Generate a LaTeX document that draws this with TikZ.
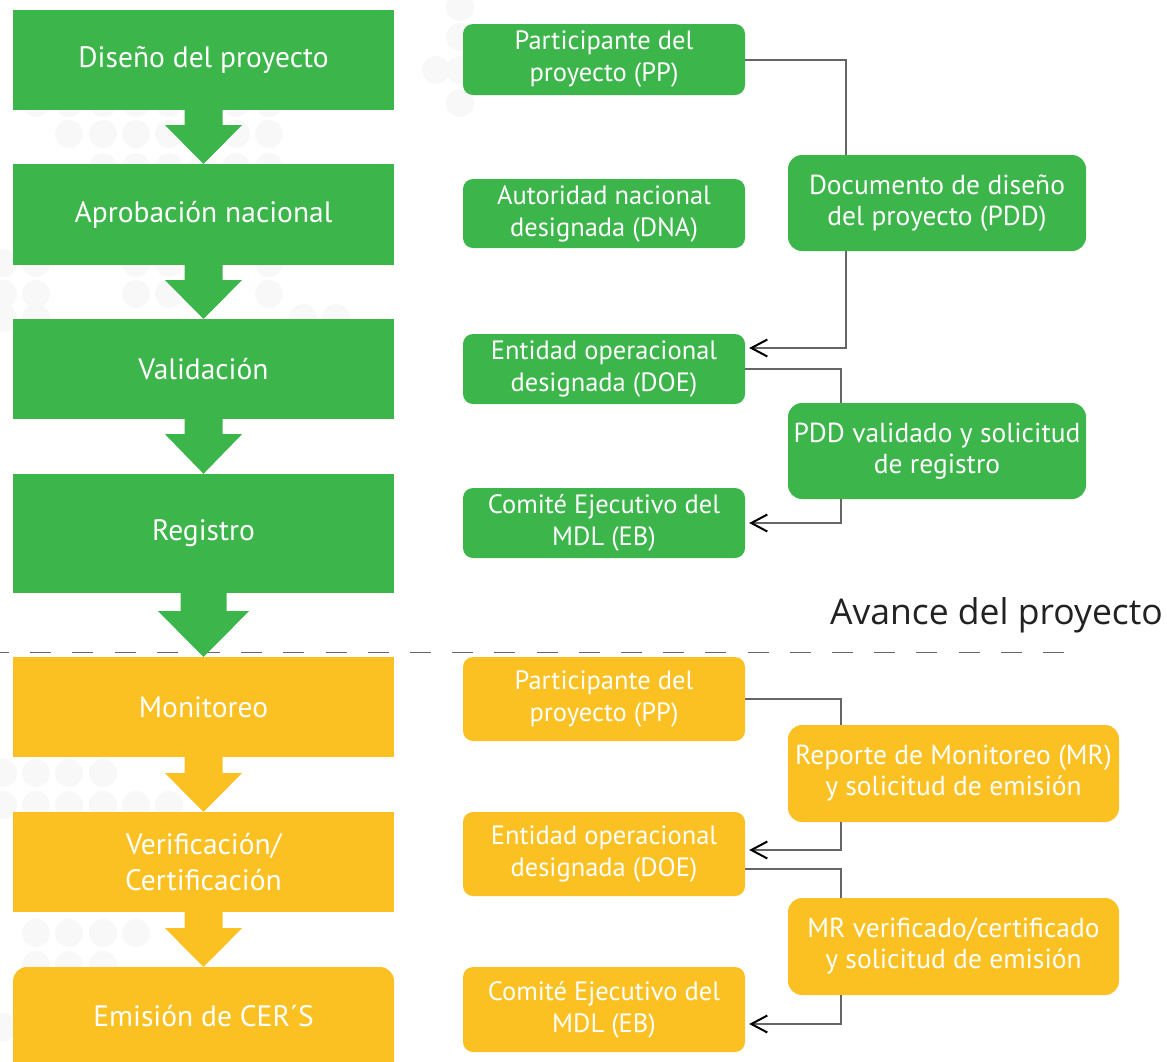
\documentclass[tikz,border=0pt]{standalone}
\usepackage{fontspec}
\setmainfont{PT Sans}
\newfontfamily\avfont{Open Sans}
\usetikzlibrary{arrows.meta,calc}
\definecolor{gr}{HTML}{3CB54A}
\definecolor{yl}{HTML}{FBC123}
\definecolor{ln}{HTML}{666666}
\definecolor{dotc}{HTML}{F8F8F8}
\definecolor{avc}{HTML}{222222}
\begin{document}
\begin{tikzpicture}[x=1pt,y=-1pt,
 lbox/.style={rectangle,minimum width=381pt,minimum height=100pt,inner sep=0pt,text=white,align=center,font=\fontsize{29.5}{36}\selectfont},
 rbox/.style={rectangle,rounded corners=10pt,minimum width=282pt,inner sep=0pt,text=white,align=center,font=\fontsize{26.5}{32}\selectfont},
 cbox/.style={rbox,rounded corners=14pt,minimum height=96pt,font=\fontsize{27.5}{31}\selectfont},
 conn/.style={draw=ln,line width=2pt},
 carr/.style={conn,-{Straight Barb[length=16pt,width=17pt,line width=2pt,black]},shorten >=4pt},
 bgdot/.style={fill=dotc},
]
\useasboundingbox (0,0) rectangle (1167,1061);
% faint background dots
\foreach \x in {36,69,103,136,169,203,236,269} \fill[bgdot] (\x,103) circle (14);
\foreach \x in {69,103,136,169,203,236,269} \fill[bgdot] (\x,134) circle (14);
\foreach \x in {103,136,169,203,236,269} \fill[bgdot] (\x,167) circle (14);
\foreach \x in {3,36,136,169,269} {\fill[bgdot] (\x,263) circle (14); \fill[bgdot] (\x,294) circle (14);}
\foreach \x in {3,36,303,336} \fill[bgdot] (\x,318) circle (14);
\foreach \y in {7,37,70,103} \fill[bgdot] (460,\y) circle (14);
\fill[bgdot] (436,70) circle (14);
\foreach \x in {3,36,69,103} \fill[bgdot] (\x,773) circle (14);
\foreach \x in {3,36,69,103,136,169} \fill[bgdot] (\x,805) circle (14);
\foreach \x in {36,69,103,136} \fill[bgdot] (\x,933) circle (14);
\foreach \x in {36,69,103} \fill[bgdot] (\x,965) circle (14);
\fill[bgdot] (3,1027) circle (14);

% dashed separator
\draw[ln,line width=1.8pt,dash pattern=on 21pt off 21.2pt,dash phase=12pt] (0,652.5) -- (1068,652.5);
\node[anchor=base east,text=avc,font=\avfont\fontsize{35.5}{42}\selectfont,inner sep=0pt] (avance) at (1163,624) {Avance del proyecto};

% left column
\node[lbox,fill=gr] (b1) at (203.5,60) {Diseño del proyecto};
\node[lbox,fill=gr,minimum height=101pt] (b2) at (203.5,214.5) {Aprobación nacional};
\node[lbox,fill=gr] (b3) at (203.5,369) {Validación};
\node[lbox,fill=gr,minimum height=119pt] (b4) at (203.5,533.5) {Registro};
\node[lbox,fill=yl] (y1) at (203.5,707) {Monitoreo};
\node[lbox,fill=yl] (y2) at (203.5,862) {Verificación/\\Certificación};
\node[lbox,fill=yl,rounded corners=14pt,minimum height=110pt] (y3) at (203.5,1022) {};
\node[text=white,font=\fontsize{29.5}{36}\selectfont,inner sep=0pt] (y3t) at (203.5,1016) {Emisión de CER´S};

% block arrows
\newcommand{\blkarrow}[6]{% from, to, color, shaft half, head half, head offset
  \fill[#3] ([xshift=-#4pt]#1.south) -- ($(#1.south)+(-#4,#6)$) -- ($(#1.south)+(-#5,#6)$) -- (#2.north)
    -- ($(#1.south)+(#5,#6)$) -- ($(#1.south)+(#4,#6)$) -- ([xshift=#4pt]#1.south) -- cycle;}
\blkarrow{b1}{b2}{gr}{19}{38.5}{15}
\blkarrow{b2}{b3}{gr}{19}{38.5}{15}
\blkarrow{b3}{b4}{gr}{19}{38.5}{15}
\blkarrow{b4}{y1}{gr}{23}{45.5}{18}
\blkarrow{y1}{y2}{yl}{19}{38.5}{16}
\blkarrow{y2}{y3}{yl}{19}{38.5}{16}

% right column: actors
\node[rbox,fill=gr,minimum height=71pt] (gpp) at (604,59.5) {Participante del\\proyecto (PP)};
\node[rbox,fill=gr,minimum height=69pt] (gdna) at (604,213.5) {Autoridad nacional\\designada (DNA)};
\node[rbox,fill=gr,minimum height=70pt] (gdoe) at (604,369) {Entidad operacional\\designada (DOE)};
\node[rbox,fill=gr,minimum height=70pt] (geb) at (604,523) {Comité Ejecutivo del\\MDL (EB)};
\node[rbox,fill=yl,minimum height=84pt] (ypp) at (604,699) {Participante del\\proyecto (PP)};
\node[rbox,fill=yl,minimum height=84pt] (ydoe) at (604,854) {Entidad operacional\\designada (DOE)};
\node[rbox,fill=yl,minimum height=85pt] (yeb) at (604,1009.5) {Comité Ejecutivo del\\MDL (EB)};

% right column: documents
\node[cbox,fill=gr,minimum width=298pt] (doc) at (937,203) {Documento de diseño\\del proyecto (PDD)};
\node[cbox,fill=gr,minimum width=298pt] (pddv) at (937,451) {PDD validado y solicitud\\de registro};
\node[cbox,fill=yl,minimum width=331pt,minimum height=97pt] (rep) at (953.5,773.5) {Reporte de Monitoreo (MR)\\y solicitud de emisión};
\node[cbox,fill=yl,minimum width=331pt,minimum height=97pt] (mrv) at (953.5,946.5) {MR verificado/certificado\\y solicitud de emisión};

% connectors
\draw[conn] (gpp.east) -| ([xshift=58pt]doc.north west);
\draw[carr] ([xshift=58pt]doc.south west) |- ([yshift=21pt]gdoe.east);
\draw[conn] (gdoe.east) -| ([xshift=53pt]pddv.north west);
\draw[carr] ([xshift=53pt]pddv.south west) |- (geb.east);
\draw[conn] (ypp.east) -| ([xshift=53pt]rep.north west);
\draw[carr] ([xshift=53pt]rep.south west) |- ([yshift=4pt]ydoe.east);
\draw[conn] ([yshift=-15pt]ydoe.east) -| ([xshift=53pt]mrv.north west);
\draw[carr] ([xshift=53pt]mrv.south west) |- ([yshift=-14.5pt]yeb.east);
\end{tikzpicture}
\end{document}
